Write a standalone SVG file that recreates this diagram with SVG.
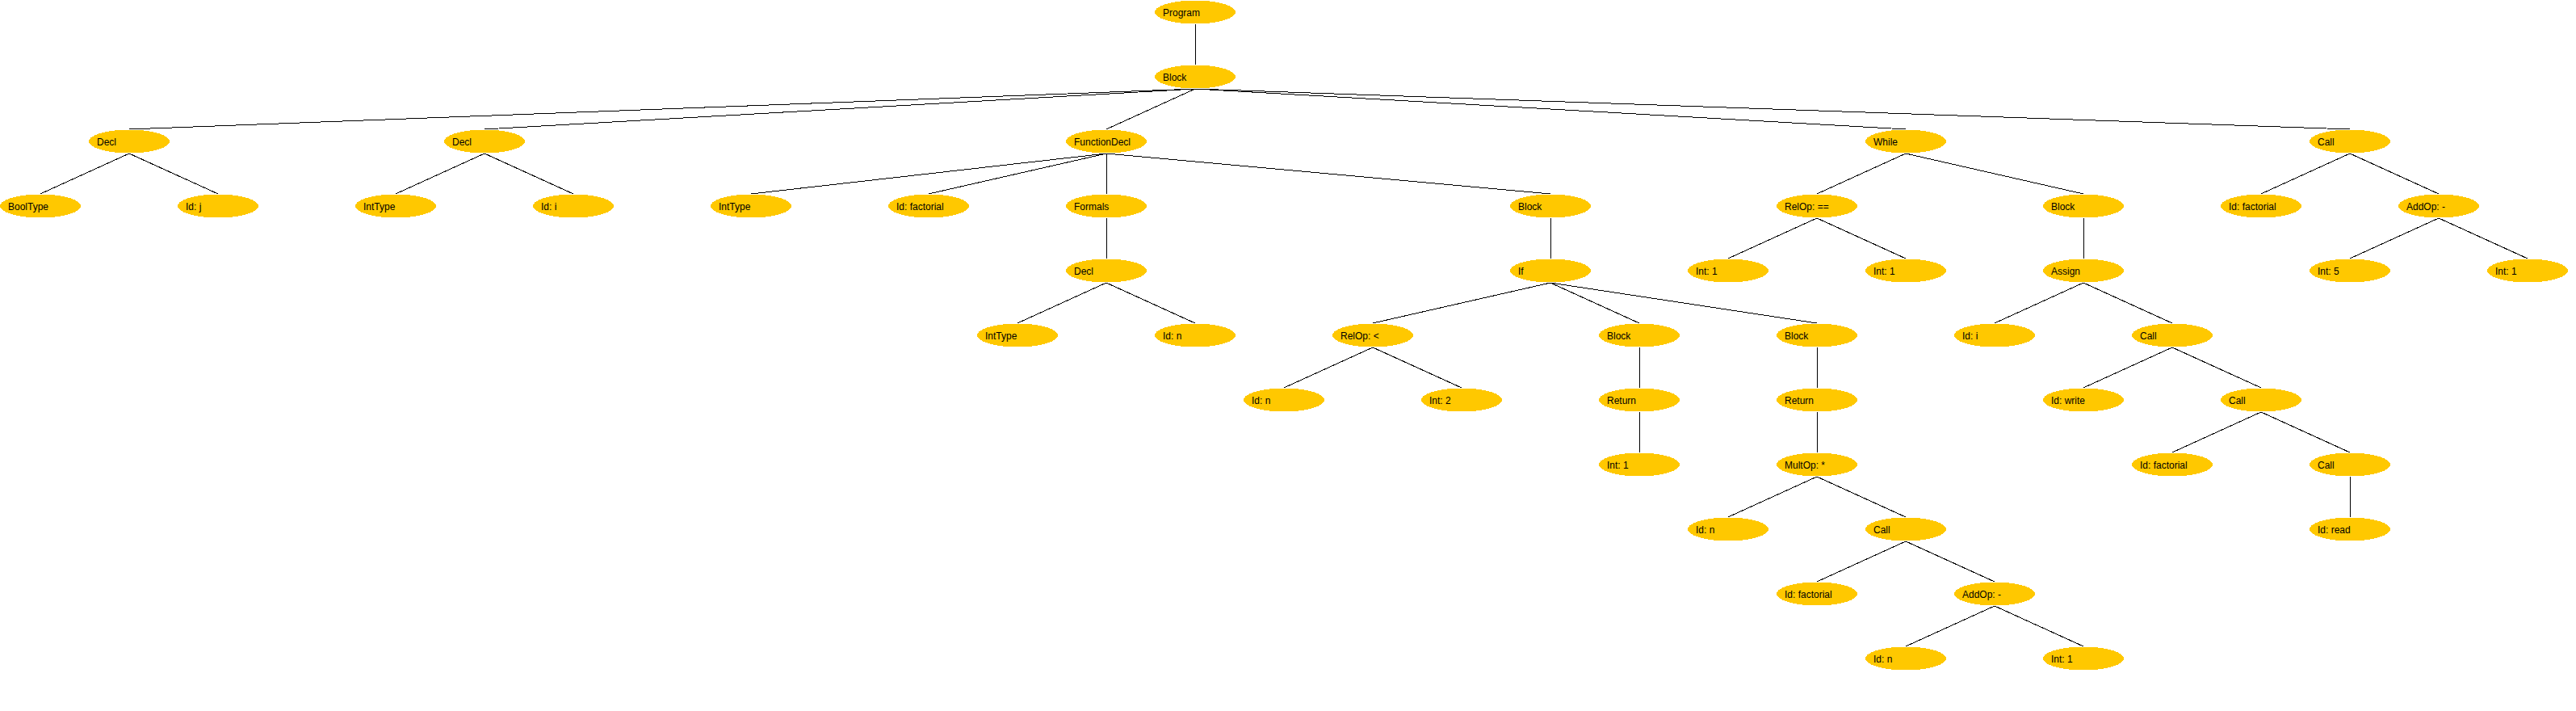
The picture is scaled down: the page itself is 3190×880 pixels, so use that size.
<svg xmlns="http://www.w3.org/2000/svg" width="3190" height="880" viewBox="0 0 3190 880">
<style>
.n ellipse{fill:#ffc800;stroke:none;shape-rendering:crispEdges}
.n text{font-family:"Liberation Sans",Arial,sans-serif;font-size:12px;fill:#000}
#edges line{stroke:#000;stroke-width:1;shape-rendering:crispEdges}
</style>
<rect width="3190" height="880" fill="#fff"/>
<g id="edges">
<line x1="1480" y1="30" x2="1480" y2="80"/>
<line x1="1480" y1="110" x2="160" y2="160"/>
<line x1="1480" y1="110" x2="600" y2="160"/>
<line x1="1480" y1="110" x2="1370" y2="160"/>
<line x1="1480" y1="110" x2="2360" y2="160"/>
<line x1="1480" y1="110" x2="2910" y2="160"/>
<line x1="160" y1="190" x2="50" y2="240"/>
<line x1="160" y1="190" x2="270" y2="240"/>
<line x1="600" y1="190" x2="490" y2="240"/>
<line x1="600" y1="190" x2="710" y2="240"/>
<line x1="1370" y1="190" x2="930" y2="240"/>
<line x1="1370" y1="190" x2="1150" y2="240"/>
<line x1="1370" y1="190" x2="1370" y2="240"/>
<line x1="1370" y1="190" x2="1920" y2="240"/>
<line x1="1370" y1="270" x2="1370" y2="320"/>
<line x1="1370" y1="350" x2="1260" y2="400"/>
<line x1="1370" y1="350" x2="1480" y2="400"/>
<line x1="1920" y1="270" x2="1920" y2="320"/>
<line x1="1920" y1="350" x2="1700" y2="400"/>
<line x1="1920" y1="350" x2="2030" y2="400"/>
<line x1="1920" y1="350" x2="2250" y2="400"/>
<line x1="1700" y1="430" x2="1590" y2="480"/>
<line x1="1700" y1="430" x2="1810" y2="480"/>
<line x1="2030" y1="430" x2="2030" y2="480"/>
<line x1="2030" y1="510" x2="2030" y2="560"/>
<line x1="2250" y1="430" x2="2250" y2="480"/>
<line x1="2250" y1="510" x2="2250" y2="560"/>
<line x1="2250" y1="590" x2="2140" y2="640"/>
<line x1="2250" y1="590" x2="2360" y2="640"/>
<line x1="2360" y1="670" x2="2250" y2="720"/>
<line x1="2360" y1="670" x2="2470" y2="720"/>
<line x1="2470" y1="750" x2="2360" y2="800"/>
<line x1="2470" y1="750" x2="2580" y2="800"/>
<line x1="2360" y1="190" x2="2250" y2="240"/>
<line x1="2360" y1="190" x2="2580" y2="240"/>
<line x1="2250" y1="270" x2="2140" y2="320"/>
<line x1="2250" y1="270" x2="2360" y2="320"/>
<line x1="2580" y1="270" x2="2580" y2="320"/>
<line x1="2580" y1="350" x2="2470" y2="400"/>
<line x1="2580" y1="350" x2="2690" y2="400"/>
<line x1="2690" y1="430" x2="2580" y2="480"/>
<line x1="2690" y1="430" x2="2800" y2="480"/>
<line x1="2800" y1="510" x2="2690" y2="560"/>
<line x1="2800" y1="510" x2="2910" y2="560"/>
<line x1="2910" y1="590" x2="2910" y2="640"/>
<line x1="2910" y1="190" x2="2800" y2="240"/>
<line x1="2910" y1="190" x2="3020" y2="240"/>
<line x1="3020" y1="270" x2="2910" y2="320"/>
<line x1="3020" y1="270" x2="3130" y2="320"/>
</g>
<g id="n0" class="n"><ellipse cx="1480" cy="15" rx="50" ry="14.5"/><text x="1440" y="20">Program</text></g>
<g id="n1" class="n"><ellipse cx="1480" cy="95" rx="50" ry="14.5"/><text x="1440" y="100">Block</text></g>
<g id="n2" class="n"><ellipse cx="160" cy="175" rx="50" ry="14.5"/><text x="120" y="180">Decl</text></g>
<g id="n3" class="n"><ellipse cx="50" cy="255" rx="50" ry="14.5"/><text x="10" y="260">BoolType</text></g>
<g id="n4" class="n"><ellipse cx="270" cy="255" rx="50" ry="14.5"/><text x="230" y="260">Id: j</text></g>
<g id="n5" class="n"><ellipse cx="600" cy="175" rx="50" ry="14.5"/><text x="560" y="180">Decl</text></g>
<g id="n6" class="n"><ellipse cx="490" cy="255" rx="50" ry="14.5"/><text x="450" y="260">IntType</text></g>
<g id="n7" class="n"><ellipse cx="710" cy="255" rx="50" ry="14.5"/><text x="670" y="260">Id: i</text></g>
<g id="n8" class="n"><ellipse cx="1370" cy="175" rx="50" ry="14.5"/><text x="1330" y="180">FunctionDecl</text></g>
<g id="n9" class="n"><ellipse cx="930" cy="255" rx="50" ry="14.5"/><text x="890" y="260">IntType</text></g>
<g id="n10" class="n"><ellipse cx="1150" cy="255" rx="50" ry="14.5"/><text x="1110" y="260">Id: factorial</text></g>
<g id="n11" class="n"><ellipse cx="1370" cy="255" rx="50" ry="14.5"/><text x="1330" y="260">Formals</text></g>
<g id="n12" class="n"><ellipse cx="1370" cy="335" rx="50" ry="14.5"/><text x="1330" y="340">Decl</text></g>
<g id="n13" class="n"><ellipse cx="1260" cy="415" rx="50" ry="14.5"/><text x="1220" y="420">IntType</text></g>
<g id="n14" class="n"><ellipse cx="1480" cy="415" rx="50" ry="14.5"/><text x="1440" y="420">Id: n</text></g>
<g id="n15" class="n"><ellipse cx="1920" cy="255" rx="50" ry="14.5"/><text x="1880" y="260">Block</text></g>
<g id="n16" class="n"><ellipse cx="1920" cy="335" rx="50" ry="14.5"/><text x="1880" y="340">If</text></g>
<g id="n17" class="n"><ellipse cx="1700" cy="415" rx="50" ry="14.5"/><text x="1660" y="420">RelOp: &lt;</text></g>
<g id="n18" class="n"><ellipse cx="1590" cy="495" rx="50" ry="14.5"/><text x="1550" y="500">Id: n</text></g>
<g id="n19" class="n"><ellipse cx="1810" cy="495" rx="50" ry="14.5"/><text x="1770" y="500">Int: 2</text></g>
<g id="n20" class="n"><ellipse cx="2030" cy="415" rx="50" ry="14.5"/><text x="1990" y="420">Block</text></g>
<g id="n21" class="n"><ellipse cx="2030" cy="495" rx="50" ry="14.5"/><text x="1990" y="500">Return</text></g>
<g id="n22" class="n"><ellipse cx="2030" cy="575" rx="50" ry="14.5"/><text x="1990" y="580">Int: 1</text></g>
<g id="n23" class="n"><ellipse cx="2250" cy="415" rx="50" ry="14.5"/><text x="2210" y="420">Block</text></g>
<g id="n24" class="n"><ellipse cx="2250" cy="495" rx="50" ry="14.5"/><text x="2210" y="500">Return</text></g>
<g id="n25" class="n"><ellipse cx="2250" cy="575" rx="50" ry="14.5"/><text x="2210" y="580">MultOp: *</text></g>
<g id="n26" class="n"><ellipse cx="2140" cy="655" rx="50" ry="14.5"/><text x="2100" y="660">Id: n</text></g>
<g id="n27" class="n"><ellipse cx="2360" cy="655" rx="50" ry="14.5"/><text x="2320" y="660">Call</text></g>
<g id="n28" class="n"><ellipse cx="2250" cy="735" rx="50" ry="14.5"/><text x="2210" y="740">Id: factorial</text></g>
<g id="n29" class="n"><ellipse cx="2470" cy="735" rx="50" ry="14.5"/><text x="2430" y="740">AddOp: -</text></g>
<g id="n30" class="n"><ellipse cx="2360" cy="815" rx="50" ry="14.5"/><text x="2320" y="820">Id: n</text></g>
<g id="n31" class="n"><ellipse cx="2580" cy="815" rx="50" ry="14.5"/><text x="2540" y="820">Int: 1</text></g>
<g id="n32" class="n"><ellipse cx="2360" cy="175" rx="50" ry="14.5"/><text x="2320" y="180">While</text></g>
<g id="n33" class="n"><ellipse cx="2250" cy="255" rx="50" ry="14.5"/><text x="2210" y="260">RelOp: ==</text></g>
<g id="n34" class="n"><ellipse cx="2140" cy="335" rx="50" ry="14.5"/><text x="2100" y="340">Int: 1</text></g>
<g id="n35" class="n"><ellipse cx="2360" cy="335" rx="50" ry="14.5"/><text x="2320" y="340">Int: 1</text></g>
<g id="n36" class="n"><ellipse cx="2580" cy="255" rx="50" ry="14.5"/><text x="2540" y="260">Block</text></g>
<g id="n37" class="n"><ellipse cx="2580" cy="335" rx="50" ry="14.5"/><text x="2540" y="340">Assign</text></g>
<g id="n38" class="n"><ellipse cx="2470" cy="415" rx="50" ry="14.5"/><text x="2430" y="420">Id: i</text></g>
<g id="n39" class="n"><ellipse cx="2690" cy="415" rx="50" ry="14.5"/><text x="2650" y="420">Call</text></g>
<g id="n40" class="n"><ellipse cx="2580" cy="495" rx="50" ry="14.5"/><text x="2540" y="500">Id: write</text></g>
<g id="n41" class="n"><ellipse cx="2800" cy="495" rx="50" ry="14.5"/><text x="2760" y="500">Call</text></g>
<g id="n42" class="n"><ellipse cx="2690" cy="575" rx="50" ry="14.5"/><text x="2650" y="580">Id: factorial</text></g>
<g id="n43" class="n"><ellipse cx="2910" cy="575" rx="50" ry="14.5"/><text x="2870" y="580">Call</text></g>
<g id="n44" class="n"><ellipse cx="2910" cy="655" rx="50" ry="14.5"/><text x="2870" y="660">Id: read</text></g>
<g id="n45" class="n"><ellipse cx="2910" cy="175" rx="50" ry="14.5"/><text x="2870" y="180">Call</text></g>
<g id="n46" class="n"><ellipse cx="2800" cy="255" rx="50" ry="14.5"/><text x="2760" y="260">Id: factorial</text></g>
<g id="n47" class="n"><ellipse cx="3020" cy="255" rx="50" ry="14.5"/><text x="2980" y="260">AddOp: -</text></g>
<g id="n48" class="n"><ellipse cx="2910" cy="335" rx="50" ry="14.5"/><text x="2870" y="340">Int: 5</text></g>
<g id="n49" class="n"><ellipse cx="3130" cy="335" rx="50" ry="14.5"/><text x="3090" y="340">Int: 1</text></g>
</svg>
